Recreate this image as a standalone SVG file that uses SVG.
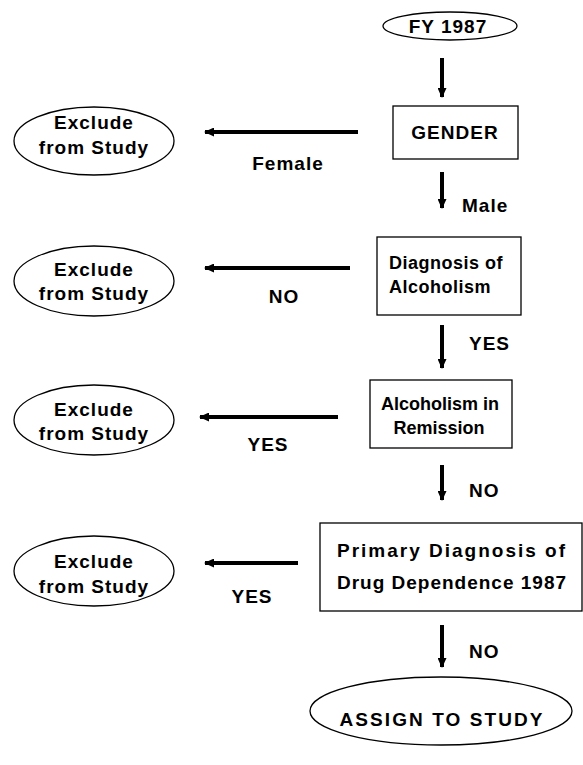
<svg xmlns="http://www.w3.org/2000/svg" width="583" height="765" viewBox="0 0 583 765">
<style>
text{font-family:"Liberation Sans",Arial,sans-serif;font-weight:bold;font-size:19px;fill:#000;text-anchor:middle;letter-spacing:1px}
.l{text-anchor:start}
.s{font-size:18px;letter-spacing:0.5px}
.t{font-size:18px;letter-spacing:0}
.w{letter-spacing:0}
.n{fill:#fff;stroke:#000;stroke-width:1.3}
.c{stroke:#000;stroke-width:4;fill:none;marker-end:url(#ah)}
</style>
<defs>
<marker id="ah" markerUnits="userSpaceOnUse" markerWidth="10" markerHeight="9" refX="9" refY="4.5" orient="auto" viewBox="0 0 10 9">
<path d="M0,0 L10,4.5 L0,9 z" fill="#000"/>
</marker>
</defs>
<rect width="583" height="765" fill="#fff"/>
<g id="connectors">
<line class="c" x1="442" y1="58" x2="442" y2="97"/>
<line class="c" x1="358" y1="132" x2="205" y2="132"/>
<line class="c" x1="442" y1="172" x2="442" y2="208"/>
<line class="c" x1="350" y1="268" x2="205" y2="268"/>
<line class="c" x1="442" y1="325" x2="442" y2="368"/>
<line class="c" x1="338" y1="417" x2="200" y2="417"/>
<line class="c" x1="442" y1="465" x2="442" y2="500"/>
<line class="c" x1="298" y1="563" x2="205" y2="563"/>
<line class="c" x1="442" y1="625" x2="442" y2="667"/>
<text x="288" y="170">Female</text>
<text class="l" x="462" y="212">Male</text>
<text x="284" y="303">NO</text>
<text class="l" x="469" y="350">YES</text>
<text x="268" y="451">YES</text>
<text class="l" x="469" y="497">NO</text>
<text x="252" y="603">YES</text>
<text class="l" x="469" y="658">NO</text>
</g>
<g id="fy1987">
<ellipse class="n" cx="450" cy="26" rx="67" ry="14"/>
<text x="448" y="33">FY 1987</text>
</g>
<g id="gender">
<rect class="n" x="393" y="106" width="125" height="53"/>
<text x="455" y="139">GENDER</text>
</g>
<g id="exclude1">
<ellipse class="n" cx="94" cy="141" rx="80" ry="34"/>
<text x="94" y="129">Exclude</text>
<text x="94" y="154">from Study</text>
</g>
<g id="diagnosis">
<rect class="n" x="377" y="237" width="144" height="78"/>
<text class="s" x="446" y="269">Diagnosis of</text>
<text class="s" x="440" y="293">Alcoholism</text>
</g>
<g id="exclude2">
<ellipse class="n" cx="94" cy="281" rx="80" ry="35"/>
<text x="94" y="276">Exclude</text>
<text x="94" y="300">from Study</text>
</g>
<g id="remission">
<rect class="n" x="370" y="380" width="142" height="68"/>
<text class="t" x="440" y="410">Alcoholism in</text>
<text class="t" x="439" y="434">Remission</text>
</g>
<g id="exclude3">
<ellipse class="n" cx="94" cy="420" rx="80" ry="35"/>
<text x="94" y="416">Exclude</text>
<text x="94" y="440">from Study</text>
</g>
<g id="primary">
<rect class="n" x="320" y="523" width="262" height="88"/>
<text class="w" x="451" y="557" textLength="228" lengthAdjust="spacing">Primary Diagnosis of</text>
<text x="452" y="589">Drug Dependence 1987</text>
</g>
<g id="exclude4">
<ellipse class="n" cx="94" cy="571" rx="80" ry="35"/>
<text x="94" y="568">Exclude</text>
<text x="94" y="593">from Study</text>
</g>
<g id="assign">
<ellipse class="n" cx="441" cy="711" rx="131" ry="34"/>
<text class="w" x="441" y="726" textLength="203" lengthAdjust="spacing">ASSIGN TO STUDY</text>
</g>
</svg>
